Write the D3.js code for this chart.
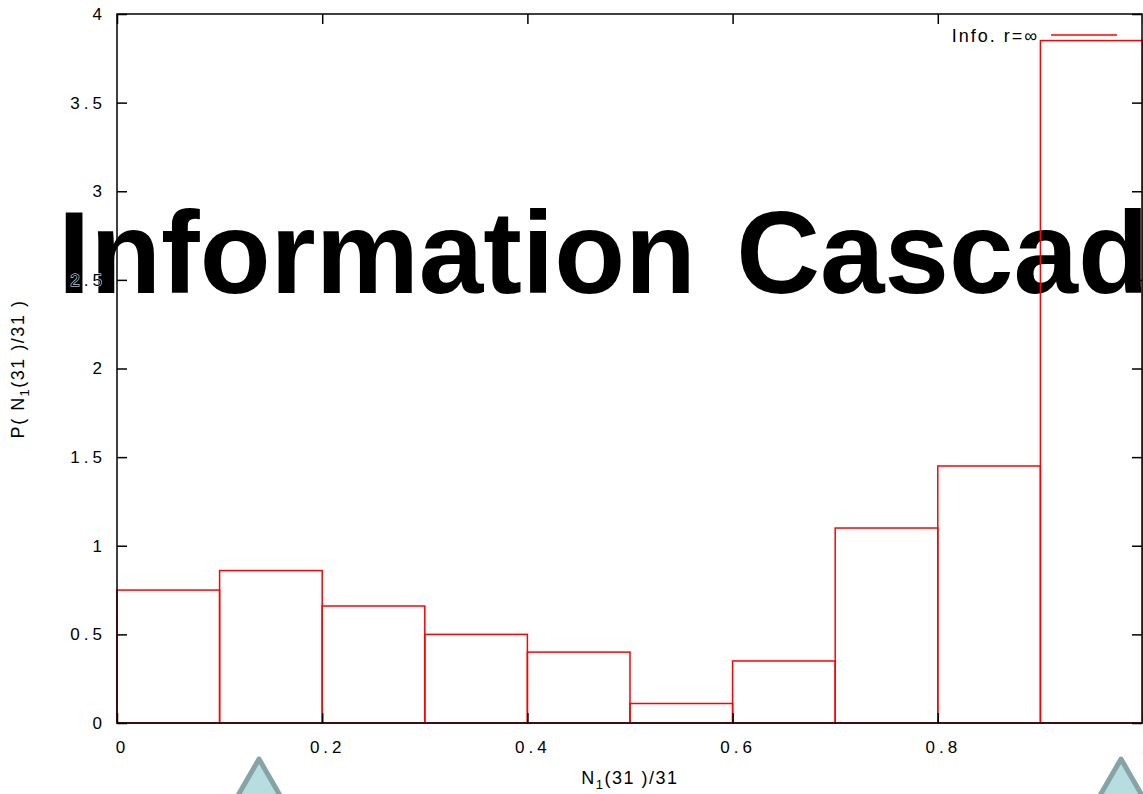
<!DOCTYPE html>
<html>
<head>
<meta charset="utf-8">
<script src="https://cdn.jsdelivr.net/npm/d3@7"></script>
<style>
  html, body { margin: 0; padding: 0; background: #fff; overflow: hidden; }
  svg { display: block; }
</style>
</head>
<body>
<script>
// ---- data ----
const binStarts = [0, 0.1, 0.2, 0.3, 0.4, 0.5, 0.6, 0.7, 0.8, 0.9];
const binWidth = 0.1;
const binValues = [0.75, 0.86, 0.66, 0.50, 0.40, 0.11, 0.35, 1.10, 1.45, 3.85];
const xTicks = [0, 0.2, 0.4, 0.6, 0.8, 1];
const xTickLabels = ["0", "0.2", "0.4", "0.6", "0.8", "1"];
const yTicks = [0, 0.5, 1, 1.5, 2, 2.5, 3, 3.5, 4];
const yTickLabels = ["0", "0.5", "1", "1.5", "2", "2.5", "3", "3.5", "4"];
const legendLabel = "Info. r=\u221E";
const titleText = "Information Cascades";
const triangleCentersX = [259, 1121];

const W = 1143, H = 794;
const svg = d3.select("body").append("svg").attr("width", W).attr("height", H);

const x = d3.scaleLinear().domain([0, 1]).range([117, 1143]);
const y = d3.scaleLinear().domain([0, 4]).range([723, 14]);

// title overlay (behind chart)
svg.append("text")
  .attr("x", 58).attr("y", 293)
  .attr("font-family", "'Liberation Sans', Arial, sans-serif")
  .attr("font-weight", "bold")
  .attr("font-size", 116)
  .attr("word-spacing", 8)
  .attr("fill", "#000")
  .text(titleText);

const fontFam = "'Liberation Sans', Arial, sans-serif";
const g = svg.append("g");

// bins
g.selectAll("rect.bin").data(binStarts).join("rect")
  .attr("class", "bin")
  .attr("x", d => x(d))
  .attr("y", (d, i) => y(binValues[i]))
  .attr("width", d => x(d + binWidth) - x(d))
  .attr("height", (d, i) => y(0) - y(binValues[i]))
  .attr("fill", "none")
  .attr("stroke", "#ff0000")
  .attr("stroke-width", 1.5);

// border
g.append("rect")
  .attr("x", x(0)).attr("y", y(4))
  .attr("width", x(1) - x(0) - 1).attr("height", y(0) - y(4))
  .attr("fill", "none").attr("stroke", "#000").attr("stroke-width", 1.5);

// axes with inward ticks
const axL = d3.axisLeft(y).tickValues(yTicks).tickSize(-10).tickFormat((d, i) => yTickLabels[i]).tickPadding(11);
const axR = d3.axisRight(y).tickValues(yTicks).tickSize(-10).tickFormat("");
const axB = d3.axisBottom(x).tickValues(xTicks).tickSize(-10).tickFormat((d, i) => xTickLabels[i]).tickPadding(18);
const axT = d3.axisTop(x).tickValues(xTicks).tickSize(-10).tickFormat("");

function styleAxis(sel) {
  sel.select(".domain").remove();
  sel.selectAll("line").attr("stroke", "#000").attr("stroke-width", 1.5);
  sel.selectAll("text")
    .attr("font-family", fontFam)
    .attr("font-size", 17)
    .attr("letter-spacing", 4)
    .attr("fill", "#000")
    .attr("stroke", "#fff").attr("stroke-width", 1).attr("paint-order", "stroke");
}
g.append("g").attr("transform", `translate(${x(0)},0)`).call(axL).call(styleAxis);
g.append("g").attr("transform", `translate(${x(1) - 1},0)`).call(axR).call(styleAxis);
g.append("g").attr("transform", `translate(0,${y(0)})`).call(axB).call(styleAxis)
  .selectAll("text").attr("dx", 5);
g.append("g").attr("transform", `translate(0,${y(4)})`).call(axT).call(styleAxis);

// axis labels
const xl = svg.append("text")
  .attr("x", 630).attr("y", 784)
  .attr("text-anchor", "middle")
  .attr("font-family", fontFam).attr("font-size", 18).attr("letter-spacing", 1.5).attr("fill", "#000");
xl.append("tspan").text("N");
xl.append("tspan").attr("dy", 5).attr("font-size", 13).text("1");
xl.append("tspan").attr("dy", -5).text("(31 )/31");

const yl = svg.append("text")
  .attr("transform", "translate(24,369) rotate(-90)")
  .attr("text-anchor", "middle")
  .attr("font-family", fontFam).attr("font-size", 18).attr("letter-spacing", 1.5).attr("fill", "#000");
yl.append("tspan").text("P( N");
yl.append("tspan").attr("dy", 5).attr("font-size", 13).text("1");
yl.append("tspan").attr("dy", -5).text("(31 )/31 )");

// legend
svg.append("text")
  .attr("x", 1039).attr("y", 42)
  .attr("text-anchor", "end")
  .attr("font-family", fontFam).attr("font-size", 18).attr("letter-spacing", 2).attr("fill", "#000")
  .text(legendLabel);
svg.append("line")
  .attr("x1", 1051).attr("x2", 1117).attr("y1", 35).attr("y2", 35)
  .attr("stroke", "#ff0000").attr("stroke-width", 1.5);

// decorative triangles
svg.selectAll("path.tri").data(triangleCentersX).join("path")
  .attr("class", "tri")
  .attr("d", cx => `M${cx},759 L${cx + 30},811 L${cx - 30},811 Z`)
  .attr("fill", "#b8dde0")
  .attr("stroke", "#86a3a6")
  .attr("stroke-width", 5)
  .attr("stroke-linejoin", "round");
</script>
</body>
</html>
